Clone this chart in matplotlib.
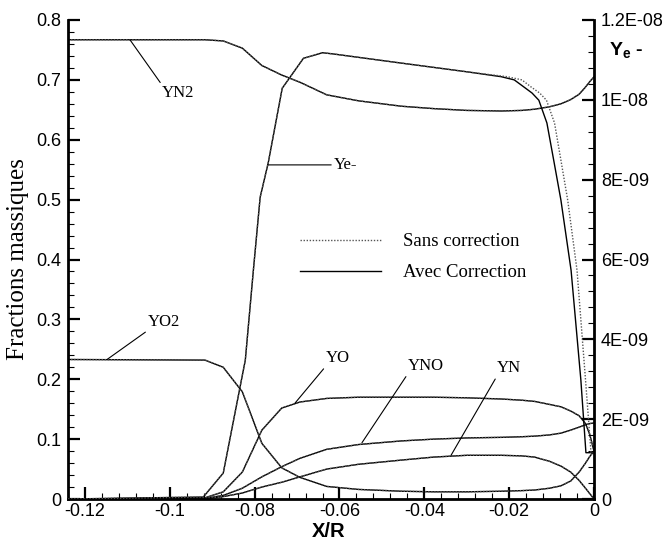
import numpy as np
import matplotlib
matplotlib.use('Agg')
import matplotlib.pyplot as plt
from matplotlib.ticker import MultipleLocator, FixedLocator, FixedFormatter

plt.rcParams['font.family'] = ['Liberation Sans', 'DejaVu Sans']
plt.rcParams['mathtext.fontset'] = 'custom'
plt.rcParams['mathtext.bf'] = 'Liberation Sans:bold'
plt.rcParams['mathtext.rm'] = 'Liberation Sans'

# abscissa X/R for the species
xr = [-0.124, -0.0917, -0.0874, -0.0829, -0.0783, -0.0736, -0.0693, -0.063, -0.0555,
      -0.0454, -0.0378, -0.03, -0.0218, -0.017, -0.014, -0.0105, -0.0078, -0.0055,
      -0.0035, -0.002, -0.001, 0.0]
yn2 = [0.767, 0.767, 0.765, 0.753, 0.724, 0.708, 0.696, 0.675, 0.665, 0.656, 0.652,
       0.649, 0.648, 0.649, 0.651, 0.655, 0.660, 0.667, 0.676, 0.688, 0.697, 0.705]
yo2 = [0.233, 0.232, 0.220, 0.179, 0.093, 0.052, 0.036, 0.021, 0.016, 0.013, 0.012,
       0.012, 0.013, 0.014, 0.015, 0.018, 0.022, 0.030, 0.045, 0.060, 0.071, 0.080]
yo = [0.0, 0.002, 0.012, 0.045, 0.115, 0.152, 0.162, 0.168, 0.170, 0.170, 0.170,
      0.169, 0.167, 0.165, 0.163, 0.158, 0.154, 0.147, 0.139, 0.126, 0.108, 0.080]
yno = [0.0, 0.001, 0.006, 0.018, 0.037, 0.054, 0.068, 0.083, 0.091, 0.097, 0.100,
       0.102, 0.103, 0.104, 0.105, 0.107, 0.110, 0.115, 0.120, 0.124, 0.126, 0.127]
yn = [0.0, 0.0, 0.004, 0.010, 0.020, 0.028, 0.037, 0.050, 0.058, 0.065, 0.070,
      0.073, 0.073, 0.072, 0.070, 0.063, 0.055, 0.045, 0.031, 0.018, 0.009, 0.0]

# electrons, right axis (units of 1E-09)
xr_e = [-0.124, -0.0921, -0.0874, -0.0822, -0.0803, -0.0787, -0.0768, -0.0735, -0.0685,
        -0.064, -0.0615, -0.0454, -0.0298, -0.0219, -0.0188, -0.0165, -0.0146, -0.013,
        -0.0111, -0.0095, -0.0078, -0.0054, -0.0031, -0.0019, 0.0]
ye_avec = [0.0, 0.05, 0.65, 3.48, 5.73, 7.56, 8.42, 10.29, 11.04, 11.18, 11.15, 10.92,
           10.70, 10.58, 10.50, 10.32, 10.17, 9.99, 9.42, 8.49, 7.49, 5.73, 2.99, 1.16,
           1.16]
xr_e_sans = [-0.124, -0.0921, -0.0874, -0.0822, -0.0803, -0.0787, -0.0768, -0.0735,
             -0.0685, -0.064, -0.0615, -0.0454, -0.0298, -0.0205, -0.017, -0.0148,
             -0.0128, -0.0112, -0.0093, -0.0078, -0.0062, -0.004, -0.002, -0.0007, 0.0]
ye_sans = [0.0, 0.05, 0.65, 3.48, 5.73, 7.56, 8.42, 10.29, 11.04, 11.18, 11.15, 10.92,
           10.70, 10.58, 10.50, 10.32, 10.17, 9.99, 9.42, 8.49, 7.49, 5.73, 2.99, 1.16,
           1.16]

xticks = [-0.12, -0.1, -0.08, -0.06, -0.04, -0.02, 0.0]
xtick_labels = ['-0.12', '-0.1', '-0.08', '-0.06', '-0.04', '-0.02', '0']
yticks = [0.0, 0.1, 0.2, 0.3, 0.4, 0.5, 0.6, 0.7, 0.8]
ytick_labels = ['0', '0.1', '0.2', '0.3', '0.4', '0.5', '0.6', '0.7', '0.8']
y2ticks = [0.0, 2e-9, 4e-9, 6e-9, 8e-9, 1e-8, 1.2e-8]
y2tick_labels = ['0', '2E-09', '4E-09', '6E-09', '8E-09', '1E-08', '1.2E-08']

serif = ['Liberation Serif', 'DejaVu Serif']
solid = dict(color='black', lw=1.0)
dotted = dict(color='#555555', lw=1.0, ls=(0, (1, 1.2)))

fig = plt.figure(figsize=(6.68, 5.39), dpi=100)
ax = fig.add_axes([0.1018, 0.0742, 0.7874, 0.8887])
ax2 = ax.twinx()

for ys in [yn2, yo2, yo, yno, yn]:
    ax.plot(xr, ys, **solid)
    ax.plot(xr, ys, **dotted)
l_avec, = ax2.plot(xr_e, np.array(ye_avec) * 1e-9, **solid)
l_sans, = ax2.plot(xr_e_sans, np.array(ye_sans) * 1e-9, **dotted)

ax.set_xlim(-0.124, 0)
ax.set_ylim(0, 0.8)
ax2.set_ylim(0, 1.2e-8)

ax.xaxis.set_major_locator(FixedLocator(xticks))
ax.xaxis.set_major_formatter(FixedFormatter(xtick_labels))
ax.xaxis.set_minor_locator(MultipleLocator(0.004))
ax.yaxis.set_major_locator(FixedLocator(yticks))
ax.yaxis.set_major_formatter(FixedFormatter(ytick_labels))
ax.yaxis.set_minor_locator(MultipleLocator(0.02))
ax2.yaxis.set_major_locator(FixedLocator(y2ticks))
ax2.yaxis.set_major_formatter(FixedFormatter(y2tick_labels))
ax2.yaxis.set_minor_locator(MultipleLocator(4e-10))

for a in (ax, ax2):
    a.spines['top'].set_visible(False)
    for s in a.spines.values():
        s.set_linewidth(2.0)
ax.spines['right'].set_visible(False)
ax2.spines['left'].set_visible(False)
ax2.spines['bottom'].set_visible(False)

ax.tick_params(which='major', direction='in', length=8.5, width=1.6, labelsize=13, pad=5)
ax.tick_params(which='minor', direction='in', length=4.3, width=0.8)
ax.tick_params(axis='x', pad=3)
ax2.tick_params(which='major', direction='in', length=8.5, width=1.6, labelsize=13, pad=5)
ax2.tick_params(which='minor', direction='in', length=4.3, width=0.8)

ax.set_xlabel('X/R', fontsize=14.5, fontweight='bold')
ax.xaxis.set_label_coords(0.495, -0.047)
ax.set_ylabel('Fractions massiques', fontsize=18, family=serif)
ax.yaxis.set_label_coords(-0.074, 0.5)

fig.text(0.911, 0.907, r'$\mathbf{Y_e}$ -', fontsize=14, fontweight='bold', va='center')

lead = dict(arrowstyle='-', lw=0.8, color='black', shrinkA=0, shrinkB=0)
ann = dict(fontsize=12, family=serif, textcoords='data')
ax.annotate('YN2', xy=(-0.1094, 0.767), xytext=(-0.1018, 0.691), ha='left', va='top',
            arrowprops=dict(lead, relpos=(0, 1)), **ann)
ax.annotate('Ye-', xy=(-0.0769, 0.558), xytext=(-0.0613, 0.558), ha='left', va='center',
            arrowprops=dict(lead, relpos=(0, 0.5)), **ann)
ax.annotate('YO2', xy=(-0.1148, 0.233), xytext=(-0.1051, 0.282), ha='left', va='bottom',
            arrowprops=dict(lead, relpos=(0, 0)), **ann)
ax.annotate('YO', xy=(-0.0705, 0.160), xytext=(-0.0632, 0.222), ha='left', va='bottom',
            arrowprops=dict(lead, relpos=(0, 0)), **ann)
ax.annotate('YNO', xy=(-0.0547, 0.094), xytext=(-0.0439, 0.209), ha='left', va='bottom',
            arrowprops=dict(lead, relpos=(0, 0)), **ann)
ax.annotate('YN', xy=(-0.0337, 0.073), xytext=(-0.0229, 0.205), ha='left', va='bottom',
            arrowprops=dict(lead, relpos=(0, 0)), **ann)

ax2.legend([l_sans, l_avec], ['Sans correction', 'Avec Correction'], loc='upper left',
           bbox_to_anchor=(0.441, 0.555), frameon=False, prop={'family': serif, 'size': 13.5},
           handlelength=4.3, handletextpad=1.2, labelspacing=0.75, borderpad=0,
           borderaxespad=0)

fig.savefig('out.png', dpi=100)
